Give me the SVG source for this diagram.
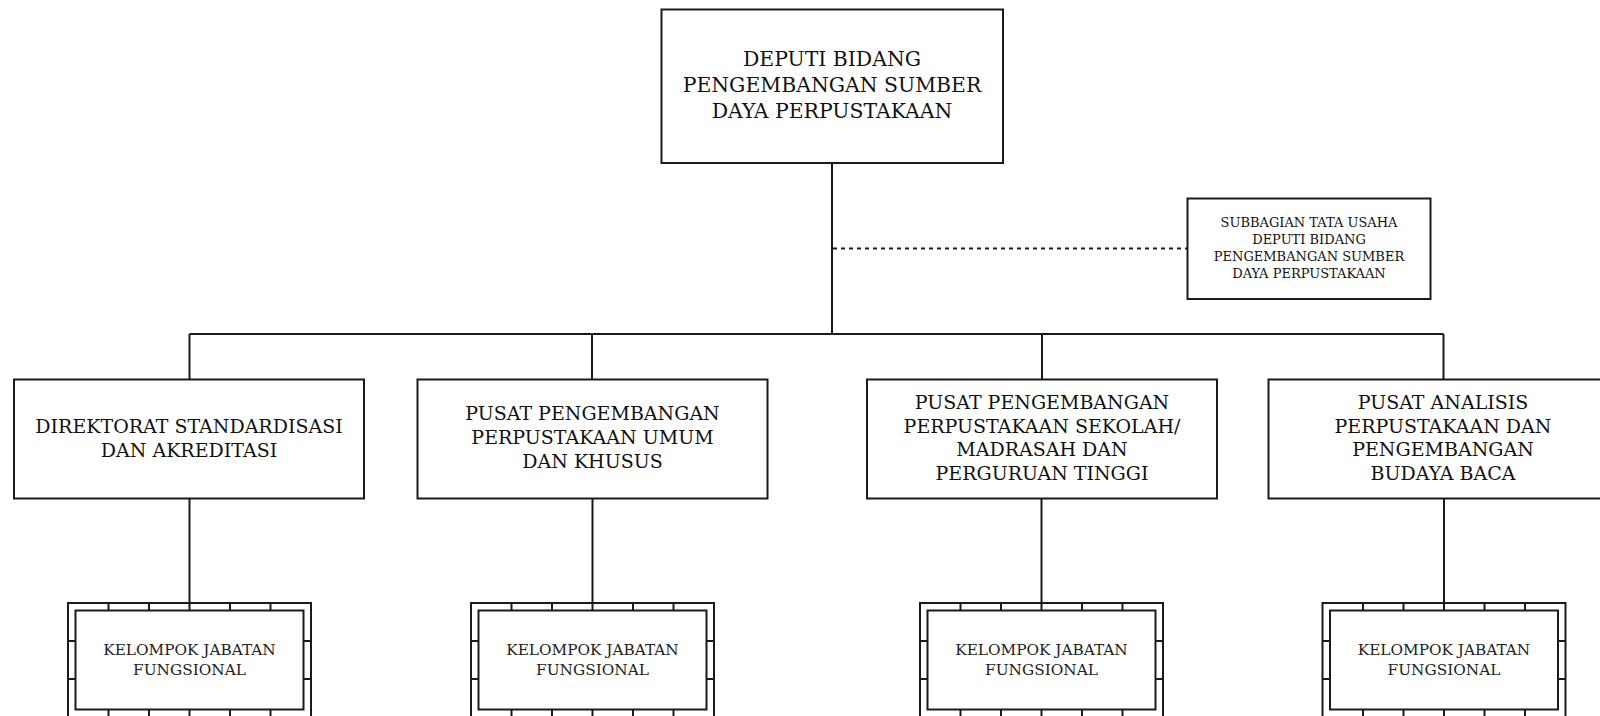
<svg xmlns="http://www.w3.org/2000/svg" width="1600" height="716" viewBox="0 0 1600 716">
  <style>
    .box { fill: #ffffff; stroke: #1a1a1a; stroke-width: 2; }
    .line { fill: none; stroke: #1a1a1a; stroke-width: 2; }
    .dash { fill: none; stroke: #1a1a1a; stroke-width: 2; stroke-dasharray: 4 4; }
    text { font-family: "DejaVu Serif", "Liberation Serif", serif; fill: #111111; text-anchor: middle; }
    .t1 { font-size: 20.4px; }
    .t2 { font-size: 19px; }
    .t3 { font-size: 13px; }
    .t4 { font-size: 15.3px; fill: #222222; }
  </style>
  <defs>
    <!-- functional group frame: double border with tick marks between the two outlines -->
    <g id="fungsional-frame">
      <rect class="box" x="-121.5" y="0" width="243" height="114"/>
      <rect class="box" x="-114" y="7.5" width="228" height="99"/>
      <path class="line" d="M-81,0 V7.5 M-40.5,0 V7.5 M0,0 V7.5 M40.5,0 V7.5 M81,0 V7.5
                            M-81,106.5 V114 M-40.5,106.5 V114 M0,106.5 V114 M40.5,106.5 V114 M81,106.5 V114
                            M-121.5,38 H-114 M-121.5,76 H-114 M114,38 H121.5 M114,76 H121.5"/>
    </g>
  </defs>

  <!-- connectors -->
  <g id="connectors">
    <path class="line" d="M832,163 V334"/>
    <path class="line" d="M189.5,334 H1443.5"/>
    <path class="line" d="M189.5,334 V379.5 M592,334 V379.5 M1042,334 V379.5 M1443.5,334 V379.5"/>
    <path class="line" d="M189.5,498.5 V603 M592.5,498.5 V603 M1041.5,498.5 V603 M1444,498.5 V603"/>
    <path class="dash" d="M833,248.5 H1187"/>
  </g>

  <!-- head -->
  <g id="deputi">
    <rect class="box" x="661.5" y="9.5" width="341.5" height="153.5"/>
    <text class="t1" x="832" y="65.5">DEPUTI BIDANG</text>
    <text class="t1" x="832" y="92">PENGEMBANGAN SUMBER</text>
    <text class="t1" x="832" y="118">DAYA PERPUSTAKAAN</text>
  </g>

  <!-- staff unit -->
  <g id="subbagian-tu">
    <rect class="box" x="1187.5" y="198.5" width="243" height="100.5"/>
    <text class="t3" x="1309" y="226.5">SUBBAGIAN TATA USAHA</text>
    <text class="t3" x="1309" y="244">DEPUTI BIDANG</text>
    <text class="t3" x="1309" y="261.2">PENGEMBANGAN SUMBER</text>
    <text class="t3" x="1309" y="277.5">DAYA PERPUSTAKAAN</text>
  </g>

  <!-- second level units -->
  <g id="dit-standardisasi">
    <rect class="box" x="14" y="379.5" width="350" height="119"/>
    <text class="t2" x="189" y="432.5">DIREKTORAT STANDARDISASI</text>
    <text class="t2" x="189" y="457">DAN AKREDITASI</text>
  </g>
  <g id="pusat-umum-khusus">
    <rect class="box" x="417.5" y="379.5" width="350" height="119"/>
    <text class="t2" x="592.5" y="420">PUSAT PENGEMBANGAN</text>
    <text class="t2" x="592.5" y="444">PERPUSTAKAAN UMUM</text>
    <text class="t2" x="592.5" y="468">DAN KHUSUS</text>
  </g>
  <g id="pusat-sekolah-pt">
    <rect class="box" x="867" y="379.5" width="350" height="119"/>
    <text class="t2" x="1042" y="409">PUSAT PENGEMBANGAN</text>
    <text class="t2" x="1042" y="432.5">PERPUSTAKAAN SEKOLAH/</text>
    <text class="t2" x="1042" y="456">MADRASAH DAN</text>
    <text class="t2" x="1042" y="479.5">PERGURUAN TINGGI</text>
  </g>
  <g id="pusat-analisis">
    <rect class="box" x="1268.5" y="379.5" width="350" height="119"/>
    <text class="t2" x="1443" y="409">PUSAT ANALISIS</text>
    <text class="t2" x="1443" y="432.5">PERPUSTAKAAN DAN</text>
    <text class="t2" x="1443" y="456">PENGEMBANGAN</text>
    <text class="t2" x="1443" y="479.5">BUDAYA BACA</text>
  </g>

  <!-- functional groups -->
  <g id="jf-1">
    <use href="#fungsional-frame" x="189.5" y="603"/>
    <text class="t4" x="189.5" y="655.3">KELOMPOK JABATAN</text>
    <text class="t4" x="189.5" y="674.7">FUNGSIONAL</text>
  </g>
  <g id="jf-2">
    <use href="#fungsional-frame" x="592.5" y="603"/>
    <text class="t4" x="592.5" y="655.3">KELOMPOK JABATAN</text>
    <text class="t4" x="592.5" y="674.7">FUNGSIONAL</text>
  </g>
  <g id="jf-3">
    <use href="#fungsional-frame" x="1041.5" y="603"/>
    <text class="t4" x="1041.5" y="655.3">KELOMPOK JABATAN</text>
    <text class="t4" x="1041.5" y="674.7">FUNGSIONAL</text>
  </g>
  <g id="jf-4">
    <use href="#fungsional-frame" x="1444" y="603"/>
    <text class="t4" x="1444" y="655.3">KELOMPOK JABATAN</text>
    <text class="t4" x="1444" y="674.7">FUNGSIONAL</text>
  </g>
</svg>
